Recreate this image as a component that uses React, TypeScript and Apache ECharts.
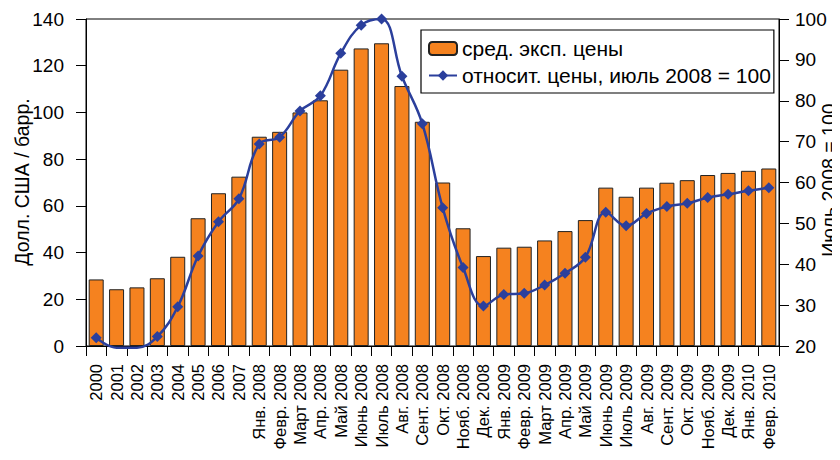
import React, { useEffect, useRef } from "react";
import * as echarts from "echarts";

const categories = [
  "2000", "2001", "2002", "2003", "2004", "2005", "2006", "2007",
  "Янв. 2008", "Февр. 2008", "Март 2008", "Апр. 2008", "Май 2008", "Июнь 2008", "Июль 2008", "Авг. 2008",
  "Сент. 2008", "Окт. 2008", "Нояб. 2008", "Дек. 2008",
  "Янв. 2009", "Февр. 2009", "Март 2009", "Апр. 2009", "Май 2009", "Июнь 2009", "Июль 2009", "Авг. 2009",
  "Сент. 2009", "Окт. 2009", "Нояб. 2009", "Дек. 2009", "Янв. 2010", "Февр. 2010",
];

const avgExportPrice = [
  28.5, 24.3, 25.1, 29, 38.2, 54.7, 65.4, 72.5,
  89.6, 91.7, 100, 105.2, 118.3, 127.4, 129.6, 111.3,
  96, 70, 50.4, 38.5,
  42.1, 42.5, 45.2, 49.2, 53.9, 67.8, 63.9, 67.8,
  69.9, 71, 73.2, 74.1, 75, 76,
];

const relativePrice = [
  22, 19.6, 19.6, 22.3, 29.6, 42, 50.4, 56,
  69.4, 71.1, 77.5, 81.2, 91.6, 98.5, 100, 86,
  74.4, 53.8, 39.2, 29.8,
  32.6, 32.9, 34.9, 37.8, 41.7, 52.7, 49.4, 52.4,
  54.1, 54.9, 56.3, 57.1, 58, 58.7,
];

const leftTicks = { min: 0, max: 140, interval: 20 };
const rightTicks = { min: 20, max: 100, interval: 10 };

const leftAxisTitle = "Долл. США / барр.";
const rightAxisTitle = "Июль 2008 = 100";

const FONT = "Liberation Sans, Arial, sans-serif";

export default function App() {
  const ref = useRef<HTMLDivElement>(null);
  useEffect(() => {
    if (!ref.current) return;
    const chart = echarts.init(ref.current, undefined, { renderer: "svg" });
    chart.setOption({
      animation: false,
      textStyle: { fontFamily: FONT, color: "#000" },
      grid: {
        left: 86, right: 61, top: 19, bottom: 114,
        outerBoundsMode: "none",
        containLabel: false,
        show: true, borderColor: "#000", borderWidth: 1, backgroundColor: "transparent",
      },
      legend: {
        orient: "vertical",
        left: 421, top: 30,
        borderColor: "#000", borderWidth: 1.2,
        padding: [8, 3, 7, 7],
        itemGap: 6,
        itemWidth: 28, itemHeight: 13,
        textStyle: { fontSize: 21, fontFamily: FONT, color: "#000" },
        data: ["сред. эксп. цены", "относит. цены, июль 2008 = 100"],
      },
      graphic: [
        {
          type: "text",
          x: 22, y: 182,
          rotation: Math.PI / 2,
          style: {
            text: leftAxisTitle, fontSize: 19.5, fontFamily: FONT, fill: "#000",
            align: "center", verticalAlign: "middle",
          },
        },
        {
          type: "text",
          x: 829, y: 180,
          rotation: Math.PI / 2,
          style: {
            text: rightAxisTitle, fontSize: 19.5, fontFamily: FONT, fill: "#000",
            align: "center", verticalAlign: "middle",
          },
        },
      ],
      xAxis: {
        type: "category",
        data: categories,
        axisLine: { lineStyle: { color: "#000", width: 1 } },
        axisTick: { show: true, alignWithLabel: false, length: 10, lineStyle: { color: "#000" } },
        axisLabel: { rotate: 90, interval: 0, fontSize: 16.5, color: "#000", fontFamily: FONT, margin: 18 },
      },
      yAxis: [
        {
          type: "value",
          ...leftTicks,
          axisLine: { show: true, lineStyle: { color: "#000" } },
          axisTick: { show: true, length: 10, lineStyle: { color: "#000" } },
          axisLabel: { fontSize: 19, color: "#000", fontFamily: FONT, margin: 22 },
          splitLine: { show: false },
        },
        {
          type: "value",
          ...rightTicks,
          position: "right",
          axisLine: { show: true, lineStyle: { color: "#000" } },
          axisTick: { show: true, length: 10, lineStyle: { color: "#000" } },
          axisLabel: { fontSize: 19, color: "#000", fontFamily: FONT, margin: 16 },
          splitLine: { show: false },
        },
      ],
      series: [
        {
          name: "сред. эксп. цены",
          type: "bar",
          data: avgExportPrice,
          barWidth: 15,
          itemStyle: { color: "#f5821f", borderColor: "#222", borderWidth: 1 },
        },
        {
          name: "относит. цены, июль 2008 = 100",
          type: "line",
          yAxisIndex: 1,
          smooth: 0.4,
          clip: false,
          data: relativePrice.map((v) => (v < 20 ? { value: v, symbol: "none" } : v)),
          symbol: "diamond",
          symbolSize: 11,
          lineStyle: { color: "#2b3f9c", width: 2.5 },
          itemStyle: { color: "#2b3f9c" },
          z: 5,
        },
      ],
    });
    return () => chart.dispose();
  }, []);
  return <div ref={ref} style={{ width: 840, height: 460, margin: -8 }} />;
}
